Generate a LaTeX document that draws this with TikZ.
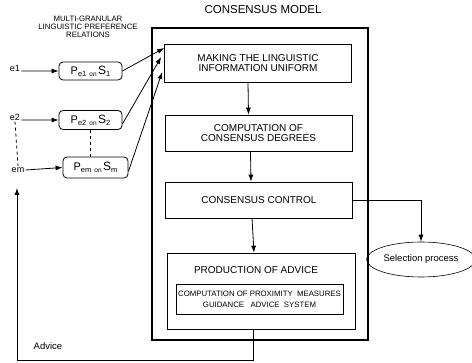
\documentclass[tikz,border=0pt]{standalone}
\usepackage{fontspec}
\setmainfont{Liberation Sans}
\usetikzlibrary{arrows.meta, shapes.geometric}

\newcommand{\fs}[1]{\fontsize{#1}{#1}\selectfont}
\newcommand{\prefrel}[2]{{\fs{11}P}\raisebox{-2pt}{\fs{7.5}#1}\hspace{3pt}\raisebox{-2pt}{\fs{6.5}on}\hspace{1.5pt}{\fs{12}S}\raisebox{-2pt}{\fs{7.5}#2}}

\begin{document}
\begin{tikzpicture}[x=1pt, y=-1pt, line width=0.8pt, >={Latex[length=7pt, width=5pt]},
    stage/.style={draw, line width=0.6pt, minimum width=187pt, align=center, font=\fs{10}, inner sep=1pt},
    pref/.style={draw, rounded corners=4pt, minimum width=63pt, minimum height=18pt, inner sep=1pt},
    expert/.style={font=\fs{9}, inner sep=1pt}]
    \useasboundingbox (0, 0) rectangle (472, 363);

    % consensus model frame
    \node (title) at (263, 10) {\fs{11.5}CONSENSUS MODEL};
    \node (model) [draw, line width=2.8pt, minimum width=216pt, minimum height=312pt] at (260, 184) {};

    \node (uniform) [stage, minimum height=38pt] at (258, 63) {MAKING THE LINGUISTIC\\INFORMATION UNIFORM};
    \node (degrees) [stage, minimum height=36pt] at (258.5, 133) {COMPUTATION OF\\CONSENSUS DEGREES};
    \node (control) [stage, minimum height=36pt] at (259, 200) {CONSENSUS CONTROL};
    \node (advice) [stage, minimum width=188pt, minimum height=76pt] at (261, 291) {};
    \node (adtitle) [font=\fs{10}] at (256, 270) {PRODUCTION OF ADVICE};
    \node (tools) [draw, line width=0.6pt, minimum width=167pt, minimum height=30pt, align=center, font=\fs{7.8}, inner sep=1pt] at (259.5, 299)
        {COMPUTATION OF PROXIMITY\ \ MEASURES\\[3pt]GUIDANCE\ \ \ ADVICE\ \ SYSTEM};

    \node (selection) [draw, line width=0.6pt, ellipse, minimum width=94pt, minimum height=35pt, inner sep=1pt, font=\fs{9.5}] at (421, 259.5) {Selection process};

    % experts and their preference relations
    \node (header) [align=center, font=\fs{7.8}] at (88, 27) {MULTI-GRANULAR\\LINGUISTIC PREFERENCE\\RELATIONS};
    \node (e1) [expert] at (15, 68) {e1};
    \node (e2) [expert] at (15, 117) {e2};
    \node (em) [expert] at (18, 170) {em};
    \node (pe1) [pref] at (90.5, 71) {\prefrel{e1}{1}};
    \node (pe2) [pref, minimum height=19pt] at (90.5, 120) {\prefrel{e2}{2}};
    \node (pem) [pref, minimum width=65pt, minimum height=21pt] at (95.5, 167.5) {\prefrel{em}{m}};
    \coordinate (back) at (17, 188);

    \draw[->] (e1.base east) -- (pe1.west);
    \draw[->] (e2.base east) -- (pe2.west);
    \draw[->] (em.east) -- (pem.west);
    \draw[dashed] (e2.south) -- (em.north);
    \draw[dashed] (pe2.south) -- (pe2.south |- pem.north);

    \draw[->] (pe1.east) -- ([yshift=15pt]uniform.west);
    \draw[->] ([yshift=-4pt]pe2.east) -- ([xshift=-3pt, yshift=6pt]uniform.west);
    \draw[->] ([yshift=-4pt]pem.east) -- ([xshift=-2pt, yshift=-9pt]uniform.west);

    \draw[->] ([xshift=-10pt]uniform.south) -- ([xshift=-10pt]degrees.north);
    \draw[->] ([xshift=-8pt]degrees.south) -- ([xshift=-8pt]control.north);
    \draw[->] ([xshift=-7pt]control.south) -- ([xshift=-7pt]advice.north);
    \draw[->] (control.east) -| (selection.north);

    % advice goes back to the experts
    \draw[->] ([xshift=-8pt]advice.south) -- ++(0, 31) -| (back);
    \node (feedback) [font=\fs{9.5}] at (48, 346) {Advice};
\end{tikzpicture}
\end{document}
